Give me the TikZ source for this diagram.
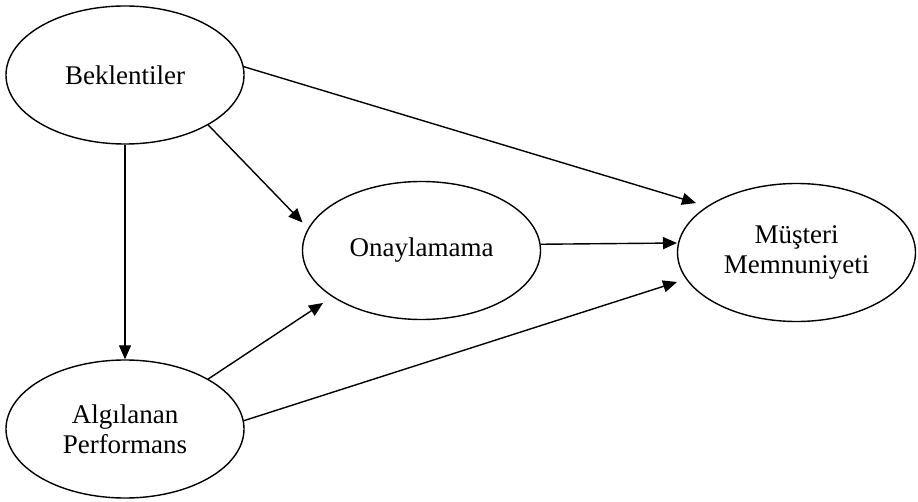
\documentclass[tikz,border=0pt]{standalone}
\usepackage{fontspec}
\setmainfont{Liberation Serif}
\usetikzlibrary{shapes.geometric,arrows.meta}
\begin{document}
\begin{tikzpicture}[x=1pt,y=-1pt,
  concept/.style={ellipse,draw,line width=1.4pt,minimum width=238pt,minimum height=138pt,
    inner sep=0pt,align=center,font=\fontsize{27}{30}\selectfont},
  link/.style={line width=1.4pt,-{Triangle[length=14pt,width=12pt]}}]
\useasboundingbox (0,0) rectangle (918,502);
% latent constructs
\node[concept] (bek) at (125,75) {Beklentiler};
\node[concept] (alg) at (125,429) {Algılanan\\Performans};
\node[concept] (ony) at (421.5,250.5) {Onaylamama};
\node[concept] (mus) at (796.5,252.5) {Müşteri\\Memnuniyeti};
% arrow tips that stop short of the target borders
\coordinate (tBM) at (696,203);
\coordinate (tOM) at (677,243);
\coordinate (tAM) at (677,282);
\coordinate (tBO) at (302.5,222.5);
\coordinate (tAO) at (323,303);
% paths
\draw[link] (bek.4.8) -- (tBM);
\draw[link] (bek.-31.8) -- (tBO);
\draw[link] (bek.south) -- (alg.north);
\draw[link] (ony.3.6) -- (tOM);
\draw[link] (alg.31.5) -- (tAO);
\draw[link] (alg.4.4) -- (tAM);
\end{tikzpicture}
\end{document}
